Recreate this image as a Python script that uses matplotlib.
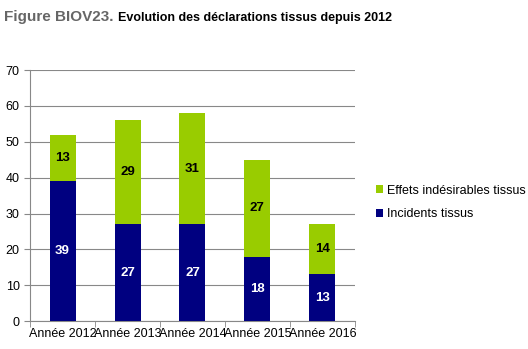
import numpy as np
import matplotlib.pyplot as plt

plt.rcParams["font.family"] = ["Liberation Sans", "DejaVu Sans"]

years = ["Année 2012", "Année 2013", "Année 2014", "Année 2015", "Année 2016"]
incidents = [39, 27, 27, 18, 13]
effets = [13, 29, 31, 27, 14]

navy = "#000080"
green = "#99CC00"

fig = plt.figure(figsize=(5.28, 3.49), dpi=100)
ax = fig.add_axes([0.057, 0.080, 0.615, 0.719])

x = np.arange(len(years))
b1 = ax.bar(x, incidents, width=0.4, color=navy, label="Incidents tissus", zorder=3)
b2 = ax.bar(x, effets, width=0.4, bottom=incidents, color=green,
            label="Effets indésirables tissus", zorder=3)

for i in range(len(years)):
    ax.text(x[i], incidents[i] / 2, str(incidents[i]), ha="center", va="center",
            color="white", fontsize=9.5, fontweight="bold", zorder=4)
    ax.text(x[i], incidents[i] + effets[i] / 2, str(effets[i]), ha="center",
            va="center", color="black", fontsize=9.5, fontweight="bold", zorder=4)

ax.set_ylim(0, 70)
ax.set_yticks(range(0, 71, 10))
ax.set_xlim(-0.5, len(years) - 0.5)
ax.set_xticks(x)
ax.set_xticklabels(years, fontsize=9)
ax.set_xticks(np.arange(-0.5, len(years)), minor=True)
ax.tick_params(axis="x", which="major", length=0, pad=5)
ax.tick_params(axis="x", which="minor", length=4, color="#888888")
ax.tick_params(axis="y", length=4, color="#888888", labelsize=9)
ax.grid(axis="y", color="#888888", linewidth=0.8, zorder=0)
for s in ["top", "right"]:
    ax.spines[s].set_visible(False)
ax.spines["left"].set_color("#888888")
ax.spines["bottom"].set_color("#888888")

handles = [b2, b1]
fig.legend(handles, [h.get_label() for h in handles], loc="center left",
           bbox_to_anchor=(0.69, 0.42), frameon=False, fontsize=9,
           handlelength=0.6, handleheight=0.6, handletextpad=0.3, labelspacing=0.9)

t1 = fig.text(0.008, 0.94, "Figure BIOV23.", color="#666666", fontsize=11, fontweight="bold")
fig.canvas.draw()
bb = t1.get_window_extent().transformed(fig.transFigure.inverted())
fig.text(bb.x1 + 0.008, 0.94, "Evolution des déclarations tissus depuis 2012", color="black",
         fontsize=9, fontweight="bold")

fig.savefig("out.png", dpi=100)
